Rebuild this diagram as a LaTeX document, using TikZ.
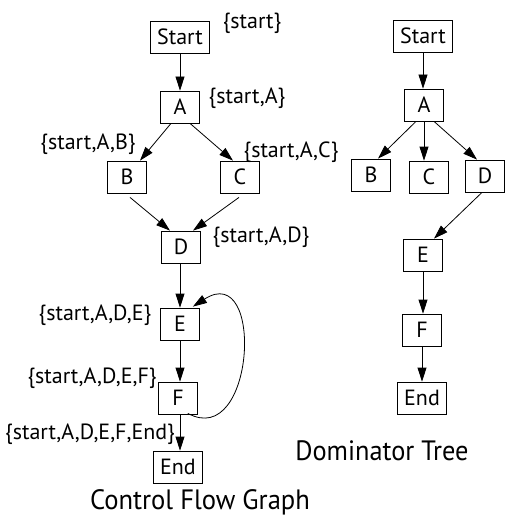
\documentclass[tikz,border=0pt]{standalone}
\usepackage{fontspec}
\setmainfont{PT Sans}
\usepackage{graphicx}
\usetikzlibrary{arrows.meta}
\tikzset{
  box/.style={draw, line width=0.8pt, minimum width=39pt, minimum height=32pt, inner xsep=7pt, inner ysep=0pt, font=\fontsize{22}{22}\selectfont},
  lbl/.style={inner sep=0pt, font=\fontsize{22}{22}\selectfont},
  ttl/.style={inner sep=0pt, anchor=base, font=\fontsize{28}{28}\selectfont},
  arr/.style={line width=0.8pt, -{Triangle[length=14pt,width=9pt]}}
}
\begin{document}
\begin{tikzpicture}[x=1pt,y=-1pt]
\useasboundingbox (0,0) rectangle (506,516);
% Control flow graph
\node[box] (s1) at (180,37) {Start};
\node[box] (a1) at (180,107) {A};
\node[box] (b1) at (127,177) {B};
\node[box] (c1) at (240,177) {C};
\node[box] (d1) at (181,247) {D};
\node[box] (e1) at (180,324) {E};
\node[box] (f1) at (178,398) {F};
\node[box] (n1) at (178,467) {End};
\node[lbl] (ls) at (252,23) {\{start\}};
\node[lbl] (la) at (247,98) {\{start,A\}};
\node[lbl] (lb) at (88,144) {\{start,A,B\}};
\node[lbl] (lc) at (291,152) {\{start,A,C\}};
\node[lbl] (ld) at (261,237) {\{start,A,D\}};
\node[lbl] (le) at (95,315) {\{start,A,D,E\}};
\node[lbl] (lf) at (92,378) {\{start,A,D,E,F\}};
\node[lbl] (ln) at (90,434) {\{start,A,D,E,F,End\}};
\node[ttl] (t1) at (200,509) {\scalebox{0.95}[1]{Control Flow Graph}};
\draw[arr] (s1.south) -- (s1.south |- a1.north);
\draw[arr] ([xshift=-9pt]a1.south) -- ([xshift=13pt]b1.north);
\draw[arr] ([xshift=10pt]a1.south) -- ([xshift=-7pt]c1.north);
\draw[arr] ([xshift=3pt,yshift=-4pt]b1.south) -- ([xshift=-11pt]d1.north);
\draw[arr] ([xshift=-1pt,yshift=-4pt]c1.south) -- ([xshift=12pt]d1.north);
\draw[arr] ([xshift=-1pt]d1.south) -- ([xshift=-1pt]d1.south |- e1.north);
\draw[arr] (e1.south) -- (e1.south |- f1.north);
\draw[arr] ([xshift=2pt]f1.south) -- ([xshift=2pt]f1.south |- n1.north);
\draw[arr] ([xshift=-10pt,yshift=1pt]f1.south east) .. controls (255,450) and (265,260) .. ([xshift=-7pt,yshift=1pt]e1.north east);
% Dominator tree
\node[box] (s2) at (423,36) {Start};
\node[box] (a2) at (424,105) {A};
\node[box] (b2) at (371,175) {B};
\node[box] (c2) at (429,177) {C};
\node[box] (d2) at (485,176) {D};
\node[box] (e2) at (423,255) {E};
\node[box] (f2) at (422,330) {F};
\node[box] (n2) at (422,398) {End};
\node[ttl] (t2) at (382,460) {\scalebox{0.94}[1]{Dominator Tree}};
\draw[arr] (s2.south) -- (s2.south |- a2.north);
\draw[arr] ([xshift=-8pt]a2.south) -- ([xshift=7pt]b2.north);
\draw[arr] (a2.south) -- (a2.south |- c2.north);
\draw[arr] ([xshift=10pt]a2.south) -- ([xshift=-8pt]d2.north);
\draw[arr] ([xshift=-3pt]d2.south) -- ([xshift=11pt]e2.north);
\draw[arr] (e2.south) -- (e2.south |- f2.north);
\draw[arr] (f2.south) -- (f2.south |- n2.north);
\end{tikzpicture}
\end{document}
